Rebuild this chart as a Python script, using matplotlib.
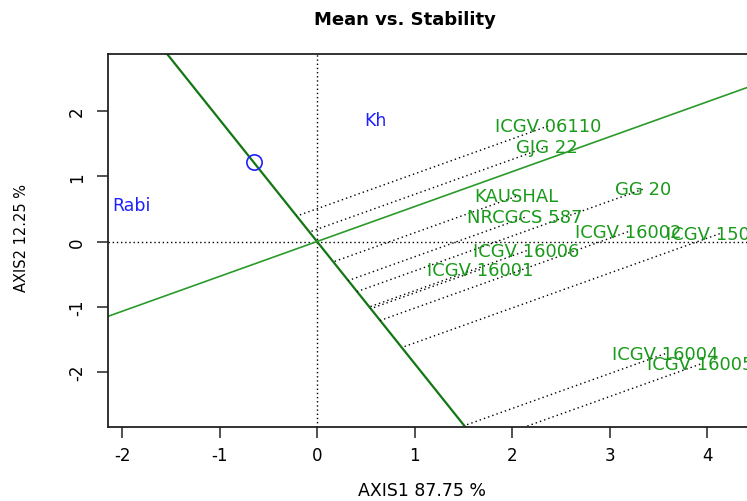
import numpy as np
import matplotlib
matplotlib.use("Agg")
import matplotlib.pyplot as plt

plt.rcParams['font.family'] = ['DejaVu Sans']

# ---- data ----
genotypes = ["ICGV 06110", "GJG 22", "KAUSHAL", "NRCGCS 587", "GG 20",
             "ICGV 16002", "ICGV 15083", "ICGV 16006", "ICGV 16001",
             "ICGV 16004", "ICGV 16005"]
g_x = [2.37, 2.36, 2.04, 2.13, 3.34, 3.19, 4.13, 2.15, 1.67, 3.57, 3.93]
g_y = [1.77, 1.45, 0.69, 0.37, 0.80, 0.15, 0.12, -0.14, -0.43, -1.72, -1.88]

environments = ["Kh", "Rabi"]
e_x = [0.60, -1.90]
e_y = [1.87, 0.56]

x_ticks = [-2, -1, 0, 1, 2, 3, 4]
y_ticks = [-2, -1, 0, 1, 2]

title = "Mean vs. Stability"
x_label = "AXIS1 87.75 %"
y_label = "AXIS2 12.25 %"

# ---- figure ----
W, H = 747, 502
fig = plt.figure(figsize=(W / 100, H / 100), dpi=100)
left_px, right_px, top_px, bot_px = 108, 770, 55, 428
ax = fig.add_axes([left_px / W, 1 - bot_px / H,
                   (right_px - left_px) / W, (bot_px - top_px) / H])
ax.set_xlim(-2.144, 4.646)
ax.set_ylim(-2.843, 2.874)

for s in ax.spines.values():
    s.set_color('#222222')
    s.set_linewidth(1.3)

ax.set_xticks(x_ticks)
ax.set_yticks(y_ticks)
ax.set_xticklabels([str(v) for v in x_ticks], fontsize=12)
ax.set_yticklabels([str(v) for v in y_ticks], fontsize=12,
                   rotation=90, va='center')
ax.tick_params(axis='both', length=8, width=1.1, color='#222222', pad=6)
ax.tick_params(axis='y', pad=8)

# reference axes through origin
ax.axhline(0, color='black', ls=(0, (1, 2)), lw=1.0)
ax.axvline(0, color='black', ls=(0, (1, 2)), lw=1.0)

# average environment
gx = np.array(g_x); gy = np.array(g_y)
avg = np.array([np.mean(e_x), np.mean(e_y)])
d = avg / np.linalg.norm(avg)

# AEA line through average environment, ATC perpendicular
ax.axline((0, 0), (avg[0], avg[1]), color='#127712', lw=1.6)
ax.axline((0, 0), (avg[1], -avg[0]), color='#2a9a2a', lw=1.2)

# projections of genotypes onto AEA line
for x, y in zip(gx, gy):
    t = x * d[0] + y * d[1]
    ax.plot([x, t * d[0]], [y, t * d[1]], color='black',
            ls=(0, (1, 2.2)), lw=1.0)

# average environment marker
ax.plot([avg[0]], [avg[1]], 'o', ms=11, mfc='none', mec='#2020ff', mew=1.2)

# labels
for name, x, y in zip(genotypes, gx, gy):
    ax.text(x, y, name, color='#1a9a1a', fontsize=13,
            ha='center', va='center', clip_on=False)
for name, x, y in zip(environments, e_x, e_y):
    ax.text(x, y, name, color='#2020ff', fontsize=12.5,
            ha='center', va='center')

fig.text(405 / W, 1 - 20 / H, title, ha='center', va='center',
         fontsize=13, fontweight='bold')
fig.text(422 / W, 1 - 491 / H, x_label, ha='center', va='center',
         fontsize=12.5)
fig.text(22 / W, 1 - 238 / H, y_label, ha='center', va='center',
         fontsize=10.5, rotation=90)

fig.savefig("out.png", dpi=100)
